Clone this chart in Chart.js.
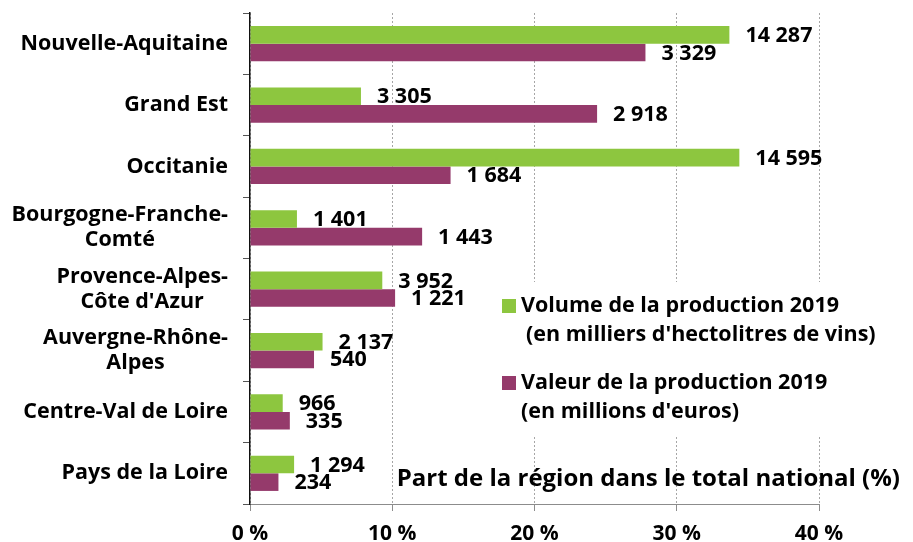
<!DOCTYPE html>
<html>
<head>
<meta charset="utf-8">
<script src="https://cdn.jsdelivr.net/npm/chart.js@4/dist/chart.umd.min.js"></script>
<style>
  html, body { margin: 0; padding: 0; background: #fff; }
  #wrap { width: 913px; height: 542px; position: relative; }
</style>
</head>
<body>
<div id="wrap"><canvas id="chart"></canvas></div>
<script>
// ===== DATA =====
const regions = [
  ['Nouvelle-Aquitaine'],
  ['Grand Est'],
  ['Occitanie'],
  ['Bourgogne-Franche-', 'Comté'],
  ['Provence-Alpes-', "Côte d'Azur"],
  ['Auvergne-Rhône-', 'Alpes'],
  ['Centre-Val de Loire'],
  ['Pays de la Loire'],
];
// share of national total (%)
const volumeShare = [33.7, 7.8, 34.4, 3.3, 9.3, 5.1, 2.3, 3.1];
const valueShare = [27.8, 24.4, 14.1, 12.1, 10.2, 4.5, 2.8, 2.0];
// labels shown next to bars
const volumeLabels = [14287, 3305, 14595, 1401, 3952, 2137, 966, 1294];
const valueLabels = [3329, 2918, 1684, 1443, 1221, 540, 335, 234];
const xTicks = [0, 10, 20, 30, 40];

const GREEN = '#8dc63f';
const PURPLE = '#953a6b';
const FONT = "'Open Sans', 'DejaVu Sans', sans-serif";

const fmt = n => String(n).replace(/\B(?=(\d{3})+(?!\d))/g, ' ');

// category names, drawn by hand so multi-line names are centred line by line
const regionLabels = {
  id: 'regionLabels',
  afterDraw(chart) {
    const { ctx, scales: { y } } = chart;
    ctx.save();
    ctx.font = `bold 21.5px ${FONT}`;
    ctx.fillStyle = '#000';
    ctx.textAlign = 'center';
    ctx.textBaseline = 'middle';
    const right = 228, lh = 25;
    regions.forEach((lines, i) => {
      const w = Math.max(...lines.map(l => ctx.measureText(l).width));
      const cy = y.getPixelForValue(i);
      lines.forEach((l, k) => {
        ctx.fillText(l, right - w / 2, cy + (k - (lines.length - 1) / 2) * lh);
      });
    });
    ctx.restore();
  }
};

const valueTags = {
  id: 'valueTags',
  afterDatasetsDraw(chart) {
    const { ctx } = chart;
    const sets = [volumeLabels, valueLabels];
    ctx.save();
    ctx.font = `bold 21.5px ${FONT}`;
    ctx.fillStyle = '#000';
    ctx.textAlign = 'left';
    ctx.textBaseline = 'middle';
    sets.forEach((vals, d) => {
      chart.getDatasetMeta(d).data.forEach((bar, i) => {
        ctx.fillText(fmt(vals[i]), bar.x + 16, bar.y + 1);
      });
    });
    ctx.restore();
  }
};

const legendBox = {
  id: 'legendBox',
  afterDraw(chart) {
    const { ctx, chartArea: a } = chart;
    ctx.save();
    ctx.fillStyle = '#fff';
    ctx.fillRect(a.left + 246, 282, 390, 154);
    ctx.font = `bold 21.5px ${FONT}`;
    ctx.textBaseline = 'middle';
    ctx.textAlign = 'left';
    ctx.fillStyle = GREEN;
    ctx.fillRect(a.left + 252, 299, 14, 14);
    ctx.fillStyle = PURPLE;
    ctx.fillRect(a.left + 252, 376, 14, 14);
    ctx.fillStyle = '#000';
    ctx.fillText('Volume de la production 2019', a.left + 271, 306);
    ctx.fillText("(en milliers d'hectolitres de vins)", a.left + 276, 335);
    ctx.fillText('Valeur de la production 2019', a.left + 271, 383);
    ctx.fillText("(en millions d'euros)", a.left + 271, 412);
    // axis title sits inside the plot, bottom right
    ctx.font = `bold 24px ${FONT}`;
    ctx.textAlign = 'right';
    ctx.fillText('Part de la région dans le total national (%)', 900, 479);
    ctx.restore();
  }
};

new Chart(document.getElementById('chart'), {
  type: 'bar',
  data: {
    labels: regions.map(r => r.join(' ')),
    datasets: [
      { label: 'Volume de la production 2019', data: volumeShare, backgroundColor: GREEN },
      { label: 'Valeur de la production 2019', data: valueShare, backgroundColor: PURPLE },
    ]
  },
  options: {
    indexAxis: 'y',
    responsive: true,
    maintainAspectRatio: false,
    animation: false,
    events: [],
    layout: { padding: { top: 13, right: 94, left: 0, bottom: 0 } },
    datasets: { bar: { barPercentage: 1, categoryPercentage: 0.574, borderWidth: 0 } },
    plugins: { legend: { display: false }, tooltip: { enabled: false } },
    scales: {
      x: {
        min: 0, max: 40,
        afterBuildTicks: s => { s.ticks = xTicks.map(v => ({ value: v })); },
        afterFit: s => { s.height = 38; },
        ticks: {
          callback: v => v + ' %',
          color: '#000',
          padding: 10,
          font: { family: FONT, size: 21, weight: 'bold' }
        },
        grid: { color: '#a6a6a6', lineWidth: 1, tickLength: 7, tickColor: '#8c8c8c' },
        border: { color: '#8c8c8c', width: 1, dash: [2, 2] }
      },
      y: {
        afterFit: s => { s.width = 250; },
        ticks: { display: false },
        grid: { offset: true, drawOnChartArea: false, tickLength: 7, tickColor: '#555' },
        border: { color: '#111', width: 1.5 }
      }
    }
  },
  plugins: [regionLabels, valueTags, legendBox]
});
</script>
</body>
</html>
